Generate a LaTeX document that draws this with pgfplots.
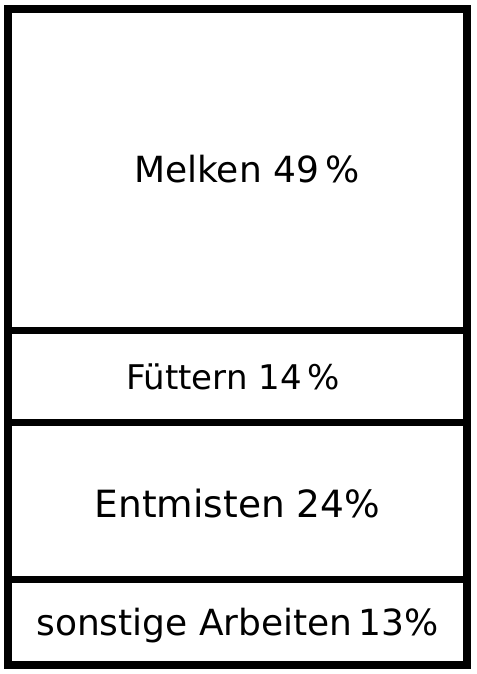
\documentclass[border=0pt]{standalone}
\usepackage{pgfplots}
\pgfplotsset{compat=1.18}
\usepackage{fontspec}
\setmainfont{DejaVu Sans}
\tikzset{lbl/.style={font=\fontsize{36bp}{40bp}\selectfont, text height=26bp, text depth=0pt, anchor=center, inner sep=0pt}}
\begin{document}
\begin{tikzpicture}
\begin{axis}[
  width=459bp, height=656bp, scale only axis,
  xmin=-0.5, xmax=0.5, ymin=0, ymax=100,
  axis lines=none, clip=false,
  ybar stacked, bar width=1,
]
\addplot[fill=none, draw=black, line width=7.5bp] coordinates {(0,13)};
\addplot[fill=none, draw=black, line width=7.5bp] coordinates {(0,24)};
\addplot[fill=none, draw=black, line width=7.5bp] coordinates {(0,14)};
\addplot[fill=none, draw=black, line width=7.5bp] coordinates {(0,49)};
\node[lbl] at (axis cs:0.02,75.5) {Melken 49\,\%};
\node[lbl, font=\fontsize{34bp}{40bp}\selectfont] at (axis cs:-0.01,44) {Füttern 14\,\%};
\node[lbl, font=\fontsize{37.5bp}{40bp}\selectfont, text height=27bp] at (axis cs:0,24.5) {Entmisten 24\%};
\node[lbl] at (axis cs:0,6.5) {sonstige Arbeiten\,13\%};
\end{axis}
\path ([shift={(-8bp,-9bp)}]current axis.south west) rectangle ([shift={(10bp,9bp)}]current axis.north east);
\end{tikzpicture}
\end{document}
